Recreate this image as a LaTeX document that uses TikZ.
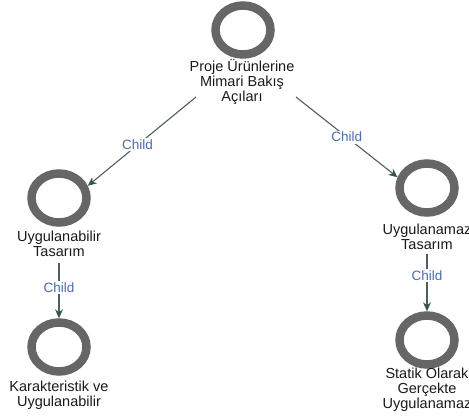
\documentclass[tikz,border=0pt]{standalone}
\usepackage{fontspec}
\setmainfont{Liberation Sans}
\usetikzlibrary{arrows.meta,shapes.geometric}
\definecolor{ringgray}{HTML}{666666}
\definecolor{edgecol}{HTML}{4F5E5A}
\definecolor{tipcol}{HTML}{2E5A4C}
\definecolor{lblblue}{HTML}{4A6DB5}
\definecolor{txt}{HTML}{1A1A1A}
\begin{document}
\begin{tikzpicture}[x=1pt,y=-1pt,
  ring/.style={ellipse, draw=ringgray, line width=8.5pt, minimum width=55pt, minimum height=49pt, inner sep=0pt},
  lbl/.style={font=\fontsize{14.5}{15}\selectfont, text=txt, align=center, inner sep=0pt, outer sep=0pt},
  edge/.style={draw=edgecol, line width=1.1pt, -{Stealth[length=9pt,width=8pt,color=tipcol]}},
  elbl/.style={font=\fontsize{13.5}{15}\selectfont, text=lblblue, fill=white, inner sep=1.5pt}
]
\useasboundingbox[fill=white] (0,0) rectangle (469,418);
% nodes
\node[ring] (top) at (243,30) {};
\node[lbl] (ttext) at (242,82) {Proje Ürünlerine\\Mimari Bakış\\Açıları};
\node[ring] (left) at (59,198) {};
\node[lbl] (ltext) at (59,244) {Uygulanabilir\\Tasarım};
\node[ring] (right) at (427,188) {};
\node[lbl] (rtext) at (427,237) {Uygulanamaz\\Tasarım};
\node[ring] (bl) at (59,347) {};
\node[lbl] (bltext) at (59,395.5) {Karakteristik ve\\Uygulanabilir};
\node[ring] (br) at (427,340) {};
\node[lbl] (brtext) at (427,390) {Statik Olarak\\Gerçekte\\Uygulanamaz};
% edge start points
\coordinate (sL) at (196,97);
\coordinate (sR) at (296,97);
% edges
\draw[edge] (sL) -- node[elbl,pos=0.54]{Child} (left.23);
\draw[edge] (sR) -- node[elbl,pos=0.5]{Child} (right.160);
\draw[edge,shorten <=6pt] (ltext.south) -- node[elbl,pos=0.5]{Child} (bl.north);
\draw[edge,shorten <=4pt] (rtext.south) -- node[elbl,pos=0.42]{Child} (br.north);
\end{tikzpicture}
\end{document}
